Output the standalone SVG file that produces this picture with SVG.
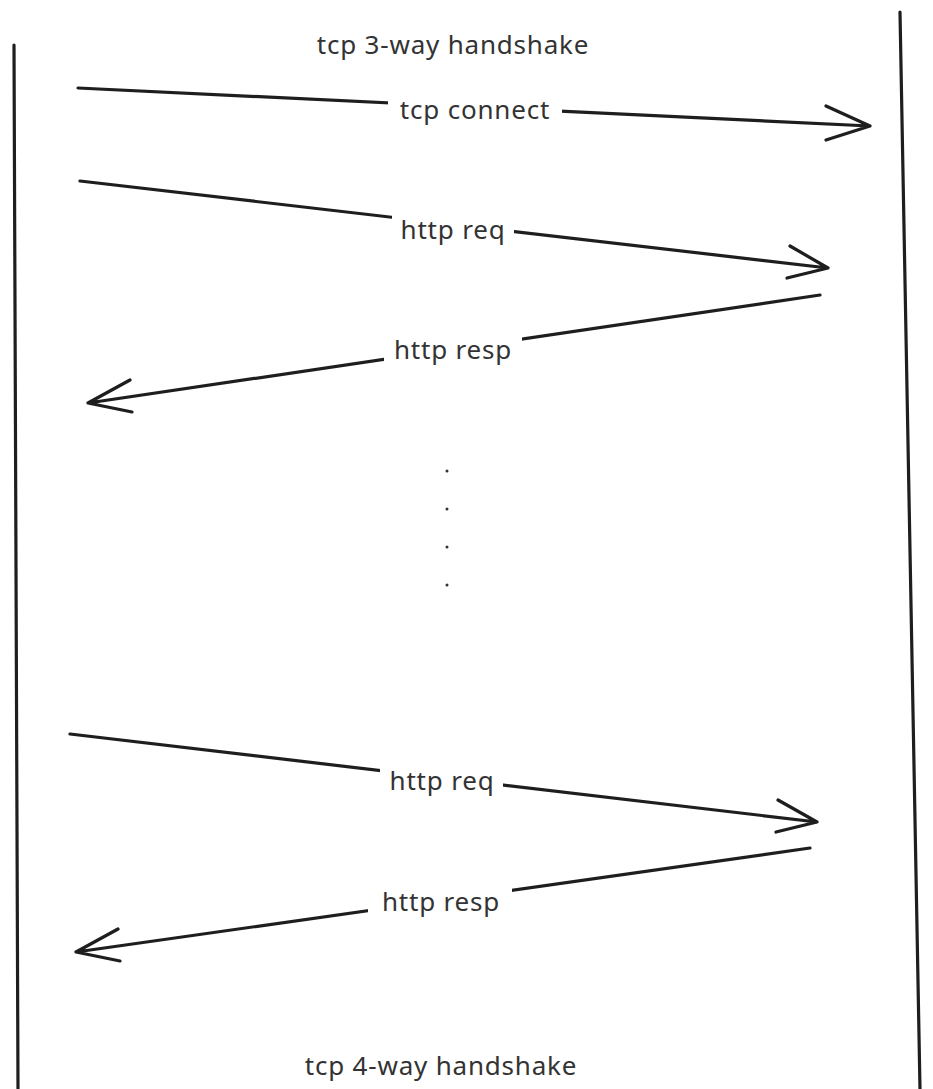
<svg xmlns="http://www.w3.org/2000/svg" width="933" height="1089" viewBox="0 0 933 1089">
<style>
.ln{stroke:#1e1e1e;stroke-width:3.2;fill:none;stroke-linecap:round;stroke-linejoin:round}
.lb{font-family:"Noto Sans","Open Sans",sans-serif;font-size:26px;letter-spacing:0.8px;fill:#333;text-anchor:middle}
.bg{fill:#fff}
</style>
<rect width="933" height="1089" fill="#fff"/>
<g id="client"><path class="ln" d="M14,45 L18,1089"/></g>
<g id="server"><path class="ln" d="M900,12 L920,1089"/></g>
<g id="title-top"><text class="lb" x="453" y="54">tcp 3-way handshake</text></g>
<g id="title-bottom"><text class="lb" x="441" y="1075">tcp 4-way handshake</text></g>
<g id="dots" fill="#333"><circle cx="447" cy="471" r="1.5"/><circle cx="447" cy="509" r="1.5"/><circle cx="447" cy="547" r="1.5"/><circle cx="447" cy="585" r="1.5"/></g>
<g id="connectors">
<path class="ln" d="M78,88 L870,126 M826,106 L870,126 L826,140"/>
<path class="ln" d="M80,181 L828,268 M790,246 L828,268 L787,278"/>
<path class="ln" d="M820,295 L88,403 M130,380 L88,403 L132,412"/>
<path class="ln" d="M70,734 L817,822 M778,800 L817,822 L776,832"/>
<path class="ln" d="M810,848 L76,952 M118,929 L76,952 L120,961"/>
</g>
<g id="label-connect"><rect class="bg" x="388" y="92" width="174" height="36"/><text class="lb" x="475" y="119">tcp connect</text></g>
<g id="label-req1"><rect class="bg" x="392" y="212" width="122" height="36"/><text class="lb" x="453" y="239">http req</text></g>
<g id="label-resp1"><rect class="bg" x="384" y="332" width="138" height="36"/><text class="lb" x="453" y="359">http resp</text></g>
<g id="label-req2"><rect class="bg" x="380" y="763" width="123" height="36"/><text class="lb" x="442" y="790">http req</text></g>
<g id="label-resp2"><rect class="bg" x="368" y="884" width="144" height="36"/><text class="lb" x="441" y="911">http resp</text></g>
</svg>
